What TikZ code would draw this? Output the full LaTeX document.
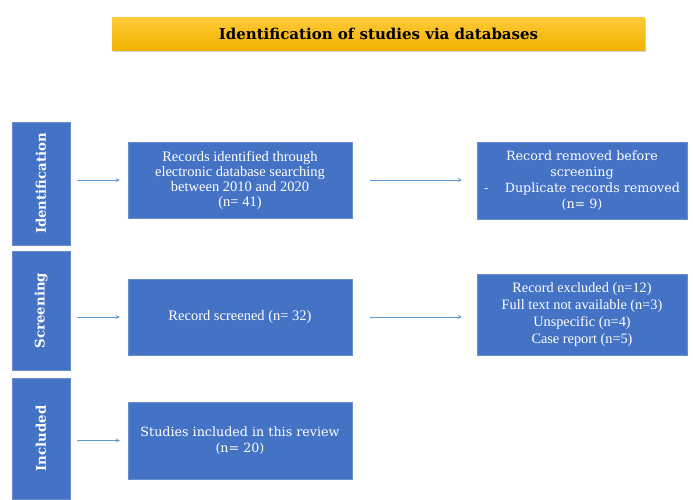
\documentclass[tikz,border=0pt]{standalone}
\usepackage{fontspec}
\setmainfont{Liberation Serif}
\newfontfamily\wideserif{DejaVu Serif}
\usetikzlibrary{shadows}
\definecolor{boxblue}{HTML}{4472C4}
\definecolor{arrowblue}{HTML}{5B9BD5}
\definecolor{goldtop}{HTML}{FFCA3A}
\definecolor{goldbot}{HTML}{F2B200}
\tikzset{
  stagebox/.style={fill=boxblue, draw=boxblue!80!white, text=white, rotate=90,
    minimum height=58pt, font=\wideserif\bfseries\fontsize{13.3}{16}\selectfont, inner sep=0pt},
  recbox/.style={fill=boxblue, draw=boxblue!80!white, text=white, align=center,
    font=\fontsize{14.5}{15}\selectfont, inner sep=2pt},
  widebox/.style={recbox, font=\wideserif\fontsize{12.7}{16}\selectfont},
  flow/.style={->, draw=arrowblue, thick},
}
\begin{document}
\begin{tikzpicture}[x=1pt, y=-1pt, >=stealth]
    \useasboundingbox (0,0) rectangle (693,499);
    % title bar
    \node[top color=goldtop, bottom color=goldbot,
      drop shadow={opacity=0.35, shadow xshift=1pt, shadow yshift=-2pt},
      minimum width=533pt, minimum height=33pt, font=\wideserif\bfseries\fontsize{15}{17}\selectfont]
      (title) at (378.5,33.5) {Identification of studies via databases};
    % stages
    \node[stagebox, minimum width=123pt] (ident) at (41,183.5) {Identification};
    \node[stagebox, minimum width=119pt] (screen) at (41,310.5) {Screening};
    \node[stagebox, minimum width=121pt] (incl) at (41,438.5) {Included};
    % records
    \node[recbox, minimum width=224pt, minimum height=76pt] (found) at (240,180)
      {Records identified through\\electronic database searching\\between 2010 and 2020\\(n= 41)};
    \node[widebox, minimum width=210pt, minimum height=77pt] (dupl) at (582,180.5)
      {Record removed before\\screening\\-\hspace{1.3em}Duplicate records removed\\(n= 9)};
    \node[recbox, minimum width=224pt, minimum height=76pt] (screened) at (240,317)
      {Record screened (n= 32)};
    \node[recbox, minimum width=210pt, minimum height=81pt, font=\fontsize{14.3}{16.8}\selectfont]
      (excl) at (582,314.5)
      {Record excluded (n=12)\\Full text not available (n=3)\\Unspecific (n=4)\\Case report (n=5)};
    \node[widebox, minimum width=224pt, minimum height=77pt] (review) at (240,440.5)
      {Studies included in this review\\(n= 20)};
    % arrows
    \draw[flow, shorten <=7pt, shorten >=8pt] (ident.south |- found) -- (found);
    \draw[flow, shorten <=7pt, shorten >=8pt] (screen.south |- screened) -- (screened);
    \draw[flow, shorten <=7pt, shorten >=8pt] (incl.south |- review) -- (review);
    \draw[flow, shorten <=18pt, shorten >=15pt] (found.east) -- (dupl.west |- found.east);
    \draw[flow, shorten <=18pt, shorten >=15pt] (screened.east) -- (excl.west |- screened.east);
\end{tikzpicture}
\end{document}
